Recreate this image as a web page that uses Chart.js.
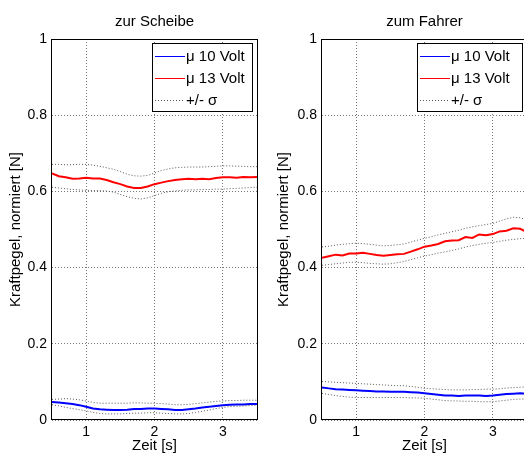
<!DOCTYPE html>
<html>
<head>
<meta charset="utf-8">
<script src="https://cdn.jsdelivr.net/npm/chart.js@4.4.1/dist/chart.umd.min.js"></script>
<style>
  html, body { margin: 0; padding: 0; background: #fff; overflow: hidden; }
  body { width: 524px; height: 455px; position: relative; }
  .panel { position: absolute; top: 0; height: 455px; }
</style>
</head>
<body>
<div class="panel" style="left:0;width:262px"><canvas id="links"></canvas></div>
<div class="panel" style="left:262px;width:270px"><canvas id="rechts"></canvas></div>
<script>
// time axis [s]
var zeit = [0.5, 0.6, 0.7, 0.8, 0.9, 1.0, 1.1, 1.2, 1.3, 1.4, 1.5, 1.6, 1.7, 1.8, 1.9, 2.0,
            2.1, 2.2, 2.3, 2.4, 2.5, 2.6, 2.7, 2.8, 2.9, 3.0, 3.1, 3.2, 3.3, 3.4, 3.5];

var xTicks = [1, 2, 3];
var yTicks = [0, 0.2, 0.4, 0.6, 0.8, 1];
var yTickLabels = ["0", "0.2", "0.4", "0.6", "0.8", "1"];
var legendLabels = ["\u03bc 10 Volt", "\u03bc 13 Volt", "+/- \u03c3"];

// zur Scheibe
var scheibe10 = [0.047, 0.046, 0.044, 0.042, 0.039, 0.035, 0.030, 0.028, 0.027, 0.026, 0.026, 0.027, 0.029, 0.029, 0.030, 0.030,
                 0.029, 0.028, 0.026, 0.026, 0.028, 0.030, 0.033, 0.035, 0.037, 0.039, 0.040, 0.041, 0.041, 0.042, 0.042];
var scheibe10Hi = [0.054, 0.055, 0.056, 0.055, 0.053, 0.050, 0.046, 0.044, 0.044, 0.044, 0.044, 0.044, 0.045, 0.045, 0.044, 0.044,
                   0.043, 0.042, 0.040, 0.040, 0.041, 0.043, 0.045, 0.047, 0.049, 0.050, 0.051, 0.051, 0.052, 0.052, 0.052];
var scheibe10Lo = [0.040, 0.037, 0.033, 0.030, 0.027, 0.024, 0.020, 0.017, 0.016, 0.016, 0.016, 0.017, 0.018, 0.018, 0.019, 0.019,
                   0.018, 0.017, 0.016, 0.016, 0.017, 0.020, 0.023, 0.026, 0.030, 0.033, 0.035, 0.036, 0.037, 0.038, 0.039];
var scheibe13 = [0.647, 0.640, 0.637, 0.633, 0.634, 0.636, 0.634, 0.634, 0.630, 0.624, 0.619, 0.613, 0.609, 0.609, 0.613, 0.619,
                 0.623, 0.627, 0.630, 0.632, 0.633, 0.632, 0.633, 0.632, 0.635, 0.637, 0.637, 0.636, 0.638, 0.637, 0.638];
var scheibe13Hi = [0.671, 0.671, 0.670, 0.670, 0.671, 0.671, 0.669, 0.666, 0.662, 0.658, 0.652, 0.645, 0.641, 0.640, 0.642, 0.648,
                   0.655, 0.659, 0.662, 0.663, 0.664, 0.664, 0.664, 0.665, 0.666, 0.667, 0.667, 0.666, 0.666, 0.665, 0.665];
var scheibe13Lo = [0.611, 0.609, 0.607, 0.605, 0.604, 0.603, 0.602, 0.602, 0.601, 0.598, 0.592, 0.586, 0.582, 0.580, 0.583, 0.589,
                   0.595, 0.599, 0.601, 0.603, 0.604, 0.604, 0.605, 0.605, 0.606, 0.606, 0.607, 0.608, 0.609, 0.610, 0.611];

// zum Fahrer
var fahrer10 = [0.085, 0.083, 0.081, 0.080, 0.079, 0.078, 0.077, 0.076, 0.075, 0.075, 0.074, 0.074, 0.074, 0.073, 0.072, 0.070,
                0.068, 0.066, 0.064, 0.064, 0.063, 0.064, 0.064, 0.064, 0.063, 0.064, 0.066, 0.068, 0.069, 0.070, 0.069];
var fahrer10Hi = [0.101, 0.100, 0.099, 0.098, 0.097, 0.096, 0.095, 0.094, 0.093, 0.092, 0.091, 0.090, 0.090, 0.088, 0.086, 0.083,
                  0.082, 0.081, 0.080, 0.079, 0.079, 0.079, 0.080, 0.080, 0.081, 0.081, 0.082, 0.084, 0.085, 0.086, 0.087];
var fahrer10Lo = [0.070, 0.067, 0.064, 0.062, 0.060, 0.059, 0.059, 0.059, 0.059, 0.059, 0.059, 0.059, 0.059, 0.058, 0.058, 0.057,
                  0.055, 0.053, 0.051, 0.050, 0.050, 0.049, 0.049, 0.048, 0.048, 0.048, 0.050, 0.052, 0.054, 0.055, 0.055];
var fahrer13 = [0.426, 0.430, 0.434, 0.432, 0.437, 0.437, 0.439, 0.436, 0.433, 0.431, 0.433, 0.435, 0.436, 0.442, 0.448, 0.455,
                0.458, 0.462, 0.469, 0.471, 0.472, 0.480, 0.478, 0.487, 0.485, 0.488, 0.495, 0.497, 0.503, 0.502, 0.493];
var fahrer13Hi = [0.454, 0.456, 0.459, 0.461, 0.463, 0.464, 0.463, 0.461, 0.459, 0.457, 0.458, 0.460, 0.462, 0.467, 0.472, 0.477,
                  0.481, 0.486, 0.490, 0.494, 0.498, 0.503, 0.507, 0.510, 0.513, 0.516, 0.522, 0.528, 0.532, 0.531, 0.524];
var fahrer13Lo = [0.406, 0.408, 0.410, 0.412, 0.414, 0.414, 0.413, 0.411, 0.410, 0.409, 0.410, 0.413, 0.416, 0.421, 0.426, 0.430,
                  0.434, 0.438, 0.441, 0.445, 0.449, 0.454, 0.458, 0.461, 0.464, 0.466, 0.469, 0.472, 0.474, 0.476, 0.477];

var FONT = "'Liberation Sans', Arial, Helvetica, sans-serif";
var BLUE = "#0000ff", RED = "#ff0000", SIGMA = "#555555";

function pts(arr) {
  return zeit.map(function (t, i) { return { x: t, y: arr[i] }; });
}

// title over the axes, black box around them and a MATLAB style legend
var boxPlugin = {
  id: "matlabBox",
  afterDatasetsDraw: function (chart, args, opts) {
    var ctx = chart.ctx, a = chart.chartArea;
    ctx.save();
    ctx.fillStyle = "#000";
    ctx.font = "15px " + FONT;
    ctx.textAlign = "center";
    ctx.textBaseline = "middle";
    ctx.fillText(opts.title, (a.left + a.right) / 2, 22);

    ctx.strokeStyle = "#000";
    ctx.lineWidth = 1;
    ctx.strokeRect(Math.round(a.left) - 0.5, Math.round(a.top) + 0.5,
                   Math.round(a.right - a.left) + 1, Math.round(a.bottom - a.top) - 1);

    var w = opts.legendWidth, h = 68;
    var bx = Math.round(a.right) - 5 - w, by = Math.round(a.top) + 4;
    ctx.fillStyle = "#fff";
    ctx.fillRect(bx, by, w, h);
    ctx.strokeRect(bx + 0.5, by + 0.5, w, h);

    var colors = [BLUE, RED, SIGMA];
    ctx.textAlign = "left";
    for (var i = 0; i < legendLabels.length; i++) {
      var yy = by + 13 + i * 22;
      ctx.beginPath();
      ctx.strokeStyle = colors[i];
      ctx.lineWidth = 1;
      ctx.setLineDash(i === 2 ? [1, 2] : []);
      ctx.moveTo(bx + 3, yy + 0.5);
      ctx.lineTo(bx + 33, yy + 0.5);
      ctx.stroke();
      ctx.setLineDash([]);
      ctx.fillStyle = "#000";
      ctx.fillText(legendLabels[i], bx + 34, yy + 1);
    }
    ctx.restore();
  }
};

function makeChart(id, title, b, bHi, bLo, r, rHi, rLo, axisW, labelPad, legendW) {
  var sigma = { borderColor: SIGMA, borderWidth: 1, borderDash: [1, 2], pointRadius: 0, fill: false };
  function ds(arr, extra) {
    return Object.assign({ data: pts(arr), pointRadius: 0, fill: false, tension: 0 }, extra);
  }
  new Chart(document.getElementById(id), {
    type: "line",
    data: {
      datasets: [
        ds(bHi, sigma), ds(bLo, sigma), ds(rHi, sigma), ds(rLo, sigma),
        ds(b, { label: legendLabels[0], borderColor: BLUE, borderWidth: 2 }),
        ds(r, { label: legendLabels[1], borderColor: RED, borderWidth: 2 })
      ]
    },
    options: {
      responsive: true,
      maintainAspectRatio: false,
      animation: false,
      layout: { padding: { left: 0, right: 5, top: 39, bottom: 0 } },
      plugins: {
        legend: { display: false },
        tooltip: { enabled: false },
        title: { display: false },
        matlabBox: { title: title, legendWidth: legendW }
      },
      scales: {
        x: {
          type: "linear",
          min: 0.5,
          max: 3.5,
          afterBuildTicks: function (s) { s.ticks = xTicks.map(function (v) { return { value: v }; }); },
          afterFit: function (s) { s.height = 35; },
          grid: { color: "#777", lineWidth: 1, drawTicks: false },
          border: { display: false, dash: [1, 2] },
          ticks: { color: "#000", padding: 4, font: { family: FONT, size: 14 }, maxRotation: 0 },
          title: { display: true, text: "Zeit [s]", color: "#000", font: { family: FONT, size: 15 }, padding: { top: 0, bottom: 0 } }
        },
        y: {
          min: 0,
          max: 1,
          afterBuildTicks: function (s) { s.ticks = yTicks.map(function (v) { return { value: v }; }); },
          afterFit: function (s) { s.width = axisW; },
          grid: { color: "#777", lineWidth: 1, drawTicks: false },
          border: { display: false, dash: [1, 2] },
          ticks: {
            color: "#000", padding: 5, font: { family: FONT, size: 14 },
            callback: function (v, i) { return yTickLabels[i]; }
          },
          title: { display: true, text: "Kraftpegel, normiert [N]", color: "#000", font: { family: FONT, size: 15 }, padding: { top: labelPad, bottom: 0 } }
        }
      }
    },
    plugins: [boxPlugin]
  });
}

makeChart("links", "zur Scheibe", scheibe10, scheibe10Hi, scheibe10Lo, scheibe13, scheibe13Hi, scheibe13Lo, 52, 7, 100);
makeChart("rechts", "zum Fahrer", fahrer10, fahrer10Hi, fahrer10Lo, fahrer13, fahrer13Hi, fahrer13Lo, 60, 13, 105);
</script>
</body>
</html>
